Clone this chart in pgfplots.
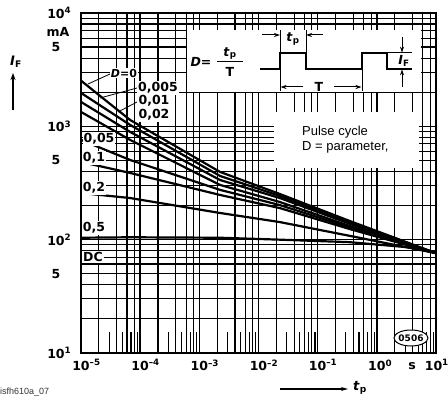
\documentclass[border=0pt]{standalone}
\usepackage{fontspec}
\setmainfont{DejaVu Sans}
\newfontfamily\arial{Liberation Sans}
\usepackage{pgfplots}
\pgfplotsset{compat=1.18}
\usetikzlibrary{arrows.meta}
\newcommand\lbl{\bfseries\fontsize{12.5}{14}\selectfont}

\begin{document}
\begin{tikzpicture}
\useasboundingbox (0,0) rectangle (448pt,400pt);
\begin{axis}[
  at={(81pt,47pt)}, anchor=south west,
  scale only axis, width=355pt, height=340pt,
  xmode=log, ymode=log,
  xmin=1e-5, xmax=10, ymin=10, ymax=1e4,
  axis line style={line width=1.6pt},
  tick align=inside, xtick pos=bottom, ytick pos=left,
  major tick length=21pt, minor tick length=0pt,
  tick style={black, line width=1.1pt},
  grid=both,
  major grid style={black, line width=1.4pt},
  minor grid style={black, line width=1.1pt},
  xtick={1e-5,1e-4,1e-3,1e-2,1e-1,1,10},
  xticklabels={10\rlap{\textsuperscript{–5}},10\rlap{\textsuperscript{–4}},10\rlap{\textsuperscript{–3}},10\rlap{\textsuperscript{–2}},10\rlap{\textsuperscript{–1}},10\rlap{\textsuperscript{0}},\hspace*{-5pt}10\rlap{\textsuperscript{1}}},
  minor xtick={2e-5,4e-5,6e-5,8e-5,2e-4,4e-4,6e-4,8e-4,2e-3,4e-3,6e-3,8e-3,2e-2,4e-2,6e-2,8e-2,0.2,0.4,0.6,0.8,2,4,6,8},
  extra x ticks={3e-5,5e-5,7e-5,9e-5,3e-4,5e-4,7e-4,9e-4,3e-3,5e-3,7e-3,9e-3,3e-2,5e-2,7e-2,9e-2,0.3,0.5,0.7,0.9,3,5,7,9},
  extra x tick labels={},
  extra x tick style={grid=none},
  ytick={10,50,100,500,1000,5000,10000},
  yticklabels={10\rlap{\textsuperscript{1}},5,10\rlap{\textsuperscript{2}},5,10\rlap{\textsuperscript{3}},5,10\rlap{\textsuperscript{4}}},
  minor ytick={20,30,40,60,70,80,90,200,300,400,600,700,800,900,2000,3000,4000,6000,7000,8000,9000},
  ticklabel style={font=\lbl},
  xticklabel style={anchor=north, yshift=-3pt},
  yticklabel style={anchor=center, xshift=-25pt},
]
% D = 0
\addplot[black, line width=2.2pt] coordinates {(1e-5,2530) (6.76e-5,1138) (2.24e-3,396) (2.29e-2,253) (0.35,146) (10,76)};
% D = 0.005
\addplot[black, line width=2.2pt] coordinates {(1e-5,1972) (6.76e-5,1029) (2.24e-3,365) (2.29e-2,243) (0.35,142) (10,76)};
% D = 0.01
\addplot[black, line width=2.2pt] coordinates {(1e-5,1642) (6.76e-5,893) (2.24e-3,336) (2.29e-2,233) (0.35,138) (10,76)};
% D = 0.02
\addplot[black, line width=2.2pt] coordinates {(1e-5,1340) (6.76e-5,759) (2.24e-3,304) (2.29e-2,215) (0.35,132) (10,76)};
% D = 0.05
\addplot[black, line width=2.2pt] coordinates {(1e-5,759) (6.76e-5,505) (2.24e-3,275) (2.29e-2,202) (0.35,128) (10,76)};
% D = 0.1
\addplot[black, line width=2.2pt] coordinates {(1e-5,485) (6.76e-5,388) (2.24e-3,248) (2.29e-2,190) (0.35,124) (10,76)};
% D = 0.2
\addplot[black, line width=2.2pt] coordinates {(1e-5,258) (6.76e-5,233) (2.24e-3,172) (2.29e-2,143) (0.35,108) (10,76)};
% D = 0.5
\addplot[black, line width=2.2pt] coordinates {(1e-5,104) (6.76e-5,105) (2.24e-3,104) (2.29e-2,100) (0.35,95) (4.06,85) (10,76)};
% DC
\addplot[black, line width=2.2pt] coordinates {(1e-5,61) (10,61)};
\end{axis}

% annotations, in image pixels (y down)
\begin{scope}[x=1pt, y=-1pt, yshift=400pt]
\fill[white] (187,30) rectangle (421,92);
\fill[white] (274,112) rectangle (419,168);

\node[anchor=base west, inner sep=0, font=\arial\fontsize{13}{13}\selectfont] at (302,136) {Pulse cycle};
\node[anchor=base west, inner sep=0, font=\arial\fontsize{13}{13}\selectfont] at (302,151) {D = parameter,};

% pulse sketch
\draw[line width=1.8pt] (260,69.3) -- (280,69.3) -- (280,52.7) -- (306,52.7) -- (306,69.3)
  -- (362,69.3) -- (362,52.7) -- (387,52.7) -- (387,69.3) -- (412,69.3);
\draw[line width=1pt] (280,52.7) -- (280,30) (306,52.7) -- (306,30)
  (280,69.3) -- (280,91) (362,69.3) -- (362,91) (387,52.7) -- (412,52.7);
\draw[-{Stealth[length=6pt,width=4pt]}, line width=1pt] (262,35) -- (280,35);
\draw[-{Stealth[length=6pt,width=4pt]}, line width=1pt] (323,35) -- (306,35);
\draw[-{Stealth[length=6pt,width=4pt]}, line width=1pt] (303,87) -- (280.5,87);
\draw[-{Stealth[length=6pt,width=4pt]}, line width=1pt] (334,87) -- (361.5,87);
\draw[-{Stealth[length=6pt,width=4pt]}, line width=1pt] (402,37) -- (402,52.7);
\draw[-{Stealth[length=6pt,width=4pt]}, line width=1pt] (402,87) -- (402,69.3);
\node[font=\lbl] at (293,39) {\textit{t}\textsubscript{p}};
\node[font=\lbl] at (319,87) {T};
\node[font=\lbl, fill=white, inner sep=0.5pt] at (404,61) {\textit{I}\textsubscript{F}};
\node[font=\lbl] at (201,62) {\textit{D}=};
\node[font=\lbl] at (230,53.5) {\textit{t}\textsubscript{p}};
\draw[line width=1.2pt] (217,61.7) -- (243,61.7);
\node[font=\lbl] at (230,71.5) {T};

% curve labels
\draw[line width=0.8pt] (88,84) -- (110,74);
\draw[line width=0.8pt] (100,98) -- (137,88);
\draw[line width=0.8pt] (118,112) -- (137,102);
\node[fill=white, inner sep=1pt, font=\bfseries\fontsize{11}{12}\selectfont] at (124,73) {\textit{D}=0};
\node[fill=white, inner sep=1pt, font=\lbl] at (158,88) {0,005};
\node[fill=white, inner sep=1pt, font=\lbl] at (154,101) {0,01};
\node[fill=white, inner sep=1pt, font=\lbl] at (154,115) {0,02};
\node[fill=white, inner sep=1pt, font=\lbl] at (99,139) {0,05};
\node[fill=white, inner sep=1pt, font=\lbl] at (94,158) {0,1};
\node[fill=white, inner sep=1pt, font=\lbl] at (94,188) {0,2};
\node[fill=white, inner sep=1pt, font=\lbl] at (94,228) {0,5};
\node[fill=white, inner sep=1pt, font=\lbl] at (93,257) {DC};

% axis captions
\node[font=\lbl] at (58,32) {mA};
\node[font=\bfseries\fontsize{13}{13}\selectfont] at (16,62) {\textit{I}\textsubscript{F}};
\draw[-{Stealth[length=7pt,width=5pt]}, line width=1.5pt] (13,110) -- (13,73);
\draw[-{Stealth[length=7pt,width=4pt]}, line width=1.2pt] (280,389) -- (348,389);
\node[font=\bfseries\fontsize{13}{13}\selectfont] at (360,388) {\textit{t}\textsubscript{p}};
\node[font=\lbl] at (412,366) {s};
\draw[fill=white, line width=1pt] (411,338) ellipse (17pt and 8pt);
\node[font=\bfseries\fontsize{9}{9}\selectfont] at (411,338) {0506};
\node[anchor=west, inner sep=0, text=black!80, font=\arial\fontsize{9}{9}\selectfont] at (0,392) {isfh610a\_07};
\end{scope}
\end{tikzpicture}
\end{document}
